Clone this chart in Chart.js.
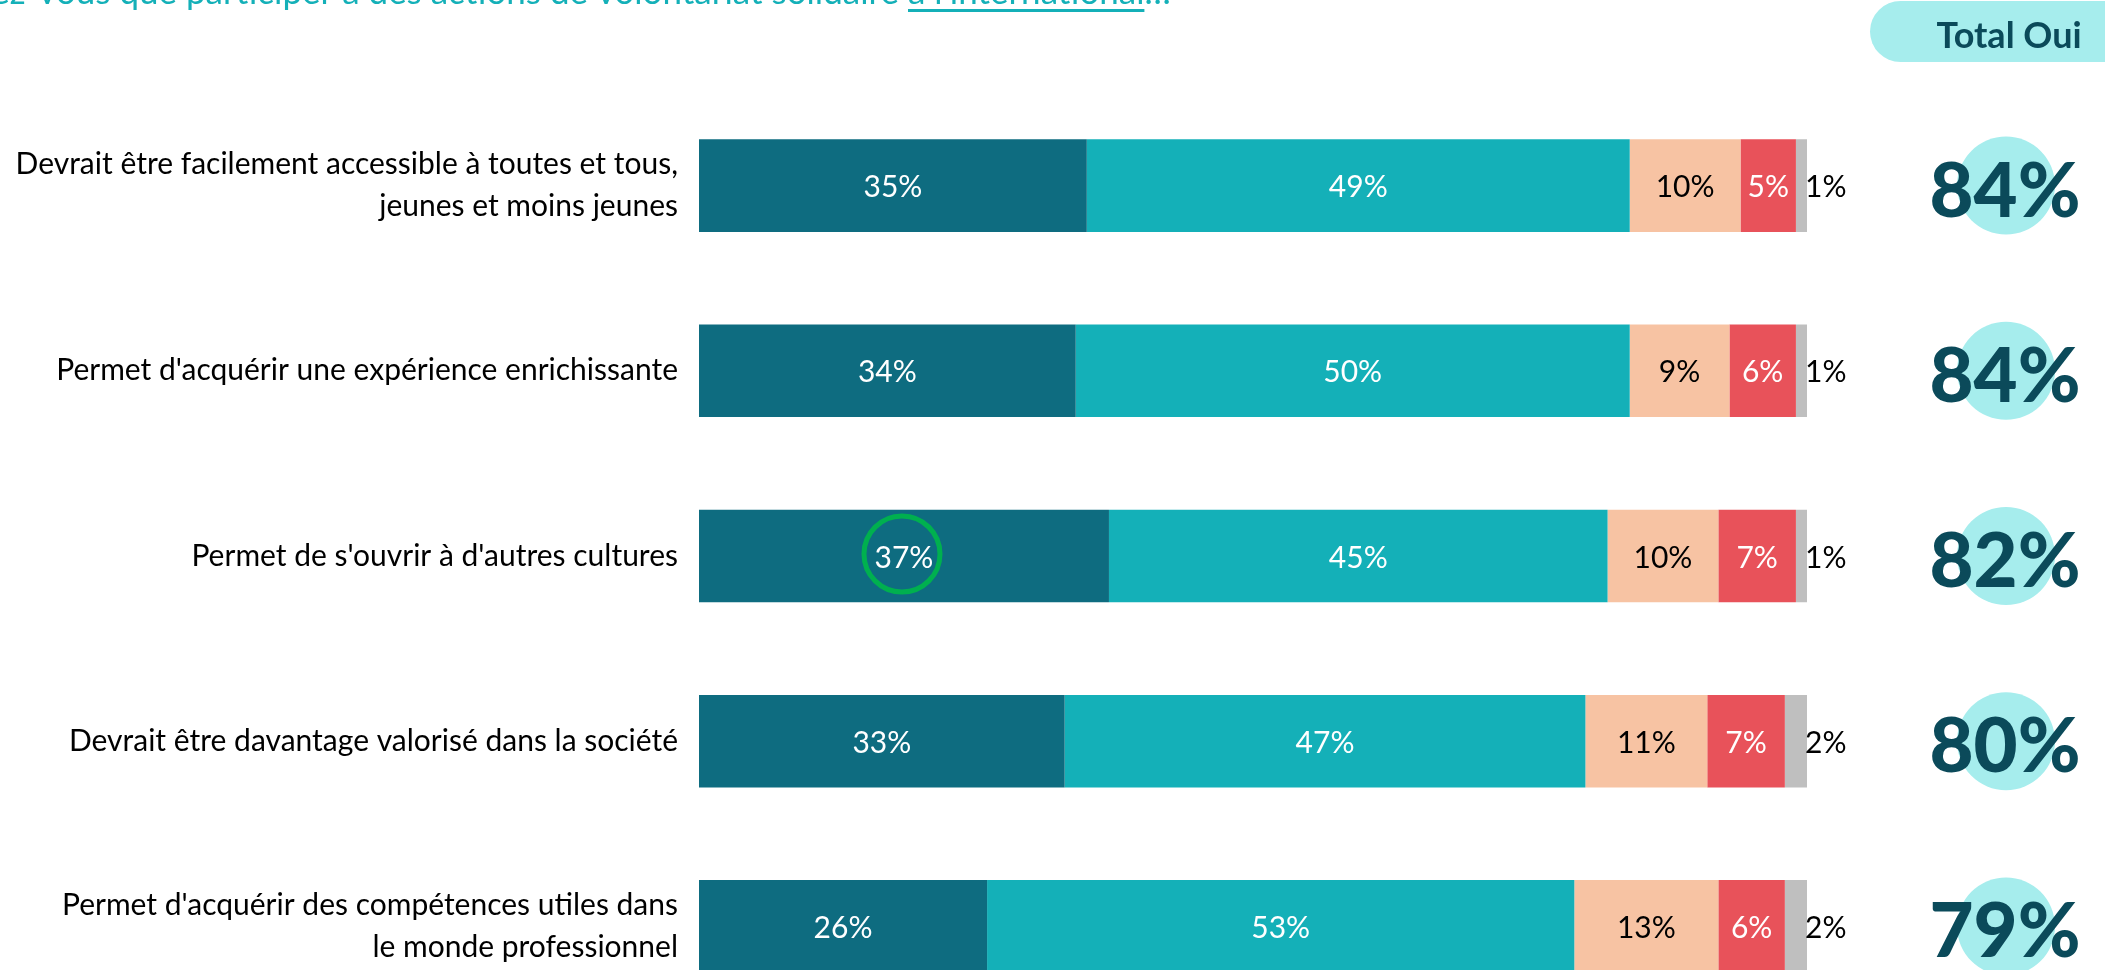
<!DOCTYPE html>
<html lang="fr">
<head>
<meta charset="utf-8">
<title>Volontariat solidaire à l'international</title>
<script src="https://cdn.jsdelivr.net/npm/chart.js@4.4.1/dist/chart.umd.min.js"></script>
<style>
  html, body { margin: 0; padding: 0; background: #fff; overflow: hidden; }
  #wrap { position: relative; width: 2105px; height: 1100px; }
</style>
</head>
<body>
<div id="wrap"><canvas id="volontariat-chart" width="2105" height="1100"></canvas></div>
<script>
// Categories (one per bar)
const categories = [
    ['Devrait être facilement accessible à toutes et tous,', 'jeunes et moins jeunes'],
    "Permet d'acquérir une expérience enrichissante",
    "Permet de s'ouvrir à d'autres cultures",
    'Devrait être davantage valorisé dans la société',
    ["Permet d'acquérir des compétences utiles dans", 'le monde professionnel']
];
// Answers in %
const ouiToutAFait = [35, 34, 37, 33, 26];
const ouiPlutot = [49, 50, 45, 47, 53];
const nonPlutotPas = [10, 9, 10, 11, 13];
const nonPasDuTout = [5, 6, 7, 7, 6];
const nspp = [1, 1, 1, 2, 2];
const totalOui = [84, 84, 82, 80, 79];

const titleText = "Diriez-vous que participer à des actions de volontariat solidaire à l'international…";
const titleUnderlined = "à l'international";

const FONT = 'Lato, "Noto Sans", sans-serif';
const DARK = '#0B4A5A';

// Values written on the bars
const barLabels = {
    id: 'barLabels',
    afterDatasetsDraw(chart) {
        const ctx = chart.ctx;
        ctx.save();
        ctx.font = '30px ' + FONT;
        ctx.textBaseline = 'middle';
        chart.data.datasets.forEach((ds, i) => {
            const meta = chart.getDatasetMeta(i);
            meta.data.forEach((bar, j) => {
                const txt = ds.data[j] + '%';
                ctx.fillStyle = ds.labelColor;
                if (i === 4) {
                    ctx.textAlign = 'left';
                    ctx.fillText(txt, bar.x - 2, bar.y + 2);
                } else {
                    ctx.textAlign = 'center';
                    ctx.fillText(txt, (bar.x + bar.base) / 2, bar.y + 2);
                }
                // green highlight round the 37%
                if (i === 0 && j === 2) {
                    ctx.beginPath();
                    ctx.arc((bar.x + bar.base) / 2 - 2, bar.y - 2, 38, 0, Math.PI * 2);
                    ctx.lineWidth = 5;
                    ctx.strokeStyle = '#00B04F';
                    ctx.stroke();
                }
            });
        });
        ctx.restore();
    }
};

// "Total Oui" column, pill header and question title
const extras = {
    id: 'extras',
    afterDraw(chart) {
        const ctx = chart.ctx;
        const y = chart.scales.y;
        ctx.save();

        // title, cut by the top of the picture
        ctx.font = '35px ' + FONT;
        ctx.fillStyle = '#14B0B8';
        ctx.textAlign = 'left';
        ctx.textBaseline = 'alphabetic';
        const start = titleText.indexOf(titleUnderlined);
        const prefixW = ctx.measureText(titleText.slice(0, start)).width;
        const underW = ctx.measureText(titleUnderlined).width;
        const tx = 908 - prefixW;
        ctx.fillText(titleText, tx, 4);
        ctx.fillRect(908, 9, underW, 3);

        // pill header
        ctx.fillStyle = '#A6EDED';
        ctx.beginPath();
        ctx.roundRect(1870, 1, 280, 61, 30.5);
        ctx.fill();
        ctx.fillStyle = DARK;
        ctx.font = 'bold 36px ' + FONT;
        ctx.textAlign = 'center';
        ctx.fillText('Total Oui', 2009, 48);

        // totals
        totalOui.forEach((v, j) => {
            const cy = y.getPixelForValue(j);
            ctx.fillStyle = '#A6EDED';
            ctx.beginPath();
            ctx.arc(2006, cy, 49, 0, Math.PI * 2);
            ctx.fill();
            ctx.fillStyle = DARK;
            ctx.font = '900 76px ' + FONT;
            ctx.fillText(v + '%', 2005, cy + 31);
        });
        ctx.restore();
    }
};

const ctx = document.getElementById('volontariat-chart').getContext('2d');
const myBarChart = new Chart(ctx, {
    type: 'bar',
    data: {
        labels: categories,
        datasets: [
            { label: 'Oui, tout à fait', data: ouiToutAFait, backgroundColor: '#0E6C80', labelColor: '#fff' },
            { label: 'Oui, plutôt', data: ouiPlutot, backgroundColor: '#14B0B8', labelColor: '#fff' },
            { label: 'Non, plutôt pas', data: nonPlutotPas, backgroundColor: '#F7C3A3', labelColor: '#000' },
            { label: 'Non, pas du tout', data: nonPasDuTout, backgroundColor: '#E8525A', labelColor: '#fff' },
            { label: 'Ne se prononce pas', data: nspp, backgroundColor: '#BFBFBF', labelColor: '#000' }
        ]
    },
    options: {
        indexAxis: 'y',
        responsive: false,
        animation: false,
        layout: { padding: { top: 93, right: 298, bottom: 81, left: 0 } },
        datasets: { bar: { categoryPercentage: 1, barPercentage: 0.5 } },
        plugins: {
            legend: { display: false },
            tooltip: { enabled: false }
        },
        scales: {
            x: { stacked: true, min: 0, max: 100, display: false },
            y: {
                stacked: true,
                grid: { display: false, drawTicks: false },
                border: { display: false },
                ticks: {
                    color: '#000',
                    padding: 21,
                    font: { family: FONT, size: 30, lineHeight: 1.4 }
                },
                afterFit: (scale) => { scale.width = 699; }
            }
        }
    },
    plugins: [barLabels, extras]
});
</script>
</body>
</html>
